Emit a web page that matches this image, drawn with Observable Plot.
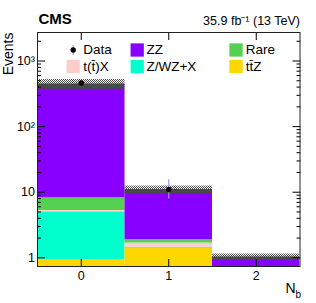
<!DOCTYPE html>
<html><head><meta charset="utf-8">
<script src="https://cdn.jsdelivr.net/npm/d3@7"></script>
<script src="https://cdn.jsdelivr.net/npm/@observablehq/plot@0.6"></script>
<style>body{margin:0;background:#fff;}</style>
</head><body><div id="chart"></div>
<script>
// ---- data ----
const nb = [0, 1, 2];
const seriesNames = ["tt\u0304Z", "Z/WZ+X", "t(t\u0304)X", "Rare", "ZZ"]; // bottom -> top
const seriesColors = ["#ffd700", "#00ffcc", "#ffcccc", "#55d055", "#8800ff"];
const ttZ  = [0.93, 1.40, 0.25];
const zwzx = [4.09, 0.05, 0.05];
const ttx  = [0.24, 0.23, 0.06];
const rare = [2.96, 0.20, 0.10];
const zz   = [438, 9.1, 0.57];
const relUnc = [0.17, 0.13, 0.11];
const dataObs = [461, 11, 0];
const errLo = [21, 3.1, 0];
const errHi = [22, 4.5, 0];
const yMajor = [1, 10, 100, 1000];
const yMajorLabels = ["1", "10", "10²", "10³"];
const yMinor = [2,3,4,5,6,7,8,9,20,30,40,50,60,70,80,90,200,300,400,500,600,700,800,900,2000];
const xTicks = [0, 1, 2];
const xTickLabels = ["0", "1", "2"];
const legendLabels = ["Data", "ZZ", "Rare", "t(t\u0304)X", "Z/WZ+X", "tt\u0304Z"];

// ---- build stack table ----
const seriesVals = [ttZ, zwzx, ttx, rare, zz];
const rows = [];
nb.forEach((n, i) => {
  let cum = 0;
  seriesVals.forEach((vals, s) => {
    const lo = cum === 0 ? 0.01 : cum;
    cum += vals[i];
    rows.push({nb: n, series: seriesNames[s], y1: lo, y2: cum});
  });
});
const totals = nb.map((n, i) => ({nb: n, tot: seriesVals.reduce((a, v) => a + v[i], 0), u: relUnc[i]}));
const obs = nb.map((n, i) => ({nb: n, v: dataObs[i], lo: dataObs[i] - errLo[i], hi: dataObs[i] + errHi[i]})).filter(d => d.v > 0);

const W = 316, H = 303, mL = 37, mR = 16.5, mT = 32, mB = 37;
const font = "'Liberation Sans', Arial, Helvetica, sans-serif";

// legend layout (pixels)
const colSwatch = [72.7, 136.7, 235.5];
const colText = [82.7, 146, 245.3];
const rowY = [49.5, 66];
const colorOf = Object.fromEntries(seriesNames.map((s, i) => [s, seriesColors[i]]));
const lineShape = {draw(ctx, l) { ctx.moveTo(0, -l / 2); ctx.lineTo(0, l / 2); }};
const legendMarks = [];
legendLabels.forEach((lab, k) => {
  const r = k < 3 ? 0 : 1;
  const c = k % 3;
  const dy = rowY[r] - mT;
  if (lab === "Data") {
    legendMarks.push(Plot.vector([lab], {frameAnchor: "top-left", dx: colSwatch[c] - mL, dy, length: 9, shape: lineShape, anchor: "start", stroke: "#9a9ade", strokeWidth: 1.2}));
    legendMarks.push(Plot.dot([lab], {frameAnchor: "top-left", dx: colSwatch[c] - mL, dy, r: 2.7, fill: "black", stroke: null}));
  } else {
    legendMarks.push(Plot.dot([lab], {frameAnchor: "top-left", dx: colSwatch[c] - mL, dy, r: 7.5, symbol: "square", fill: colorOf[lab], stroke: null}));
  }
  legendMarks.push(Plot.text([lab], {frameAnchor: "top-left", dx: colText[c] - mL, dy, text: d => d, textAnchor: "start", lineAnchor: "middle", fontSize: 13.5, fill: "black"}));
});

const plot = Plot.plot({
  width: W, height: H,
  marginLeft: mL, marginRight: mR, marginTop: mT, marginBottom: mB,
  style: {fontFamily: font, fontSize: "12.5px", background: "white", color: "black"},
  x: {domain: [-0.5, 2.5], axis: null},
  y: {type: "log", domain: [0.737, 2720], axis: null},
  color: {domain: seriesNames, range: seriesColors},
  marks: [
    Plot.rect(rows, {x1: d => d.nb - 0.5, x2: d => d.nb + 0.5, y1: "y1", y2: "y2", fill: "series", clip: true}),
    Plot.rect(totals, {x1: d => d.nb - 0.5, x2: d => d.nb + 0.5, y1: d => d.tot * (1 - d.u), y2: d => d.tot * (1 + d.u), fill: "url(#hatch)", clip: true}),
    Plot.ruleX(obs, {x: "nb", y1: "lo", y2: "hi", stroke: "#9a9ade", strokeWidth: 1.2}),
    Plot.dot(obs, {x: "nb", y: "v", r: 2.8, fill: "black"}),
    // axes
    Plot.axisY({ticks: yMajor, tickFormat: d => yMajorLabels[yMajor.indexOf(d)], tickSize: 0, tickPadding: 2.5, fontSize: 12.5, label: null}),
    Plot.axisY({ticks: yMajor, tickFormat: () => "", tickSize: -8, label: null, anchor: "left"}),
    Plot.axisY({ticks: yMinor, tickFormat: () => "", tickSize: -4, label: null, anchor: "left"}),
    Plot.axisY({ticks: yMajor, tickFormat: () => "", tickSize: -8, label: null, anchor: "right"}),
    Plot.axisY({ticks: yMinor, tickFormat: () => "", tickSize: -4, label: null, anchor: "right"}),
    Plot.axisX({ticks: xTicks, tickFormat: d => xTickLabels[xTicks.indexOf(d)], tickSize: 0, tickPadding: 5, fontSize: 12.5, label: null}),
    Plot.axisX({ticks: xTicks, tickFormat: () => "", tickSize: -7, label: null, anchor: "bottom"}),
    Plot.axisX({ticks: xTicks, tickFormat: () => "", tickSize: -7, label: null, anchor: "top"}),
    Plot.frame({stroke: "#222", strokeWidth: 1}),
    // titles
    Plot.text(["CMS"], {frameAnchor: "top-left", dx: 1, dy: -13.5, textAnchor: "start", lineAnchor: "middle", fontWeight: "bold", fontSize: 15}),
    Plot.text(["35.9 fb\u207B\u00B9 (13 TeV)"], {frameAnchor: "top-right", dx: 0, dy: -12, textAnchor: "end", lineAnchor: "middle", fontSize: 12.5}),
    Plot.text(["Events"], {frameAnchor: "top-left", dx: -29, dy: 0, rotate: -90, textAnchor: "end", lineAnchor: "middle", fontSize: 14}),
    Plot.text(["N"], {frameAnchor: "bottom-right", dx: -4.5, dy: 22.5, textAnchor: "end", lineAnchor: "middle", fontSize: 14}),
    Plot.text(["b"], {frameAnchor: "bottom-right", dx: -4.5, dy: 28.5, textAnchor: "start", lineAnchor: "middle", fontSize: 10}),
    ...legendMarks
  ]
});
// hatch pattern
const defs = d3.select(plot).insert("defs", ":first-child");
const p = defs.append("pattern").attr("id", "hatch").attr("patternUnits", "userSpaceOnUse").attr("width", 2).attr("height", 2);
p.append("rect").attr("width", 1).attr("height", 1).attr("fill", "#4a4a4a");
p.append("rect").attr("x", 1).attr("y", 1).attr("width", 1).attr("height", 1).attr("fill", "#4a4a4a");
document.getElementById("chart").appendChild(plot);
</script>
</body></html>
